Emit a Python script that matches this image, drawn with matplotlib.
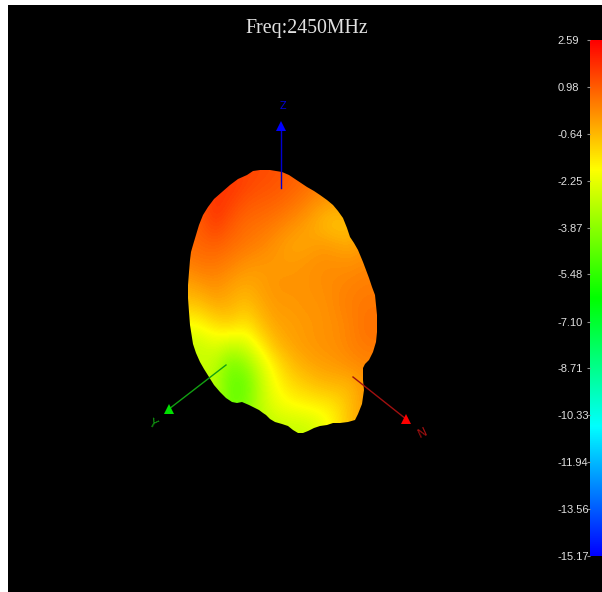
import matplotlib
matplotlib.use('Agg')
import matplotlib.pyplot as plt
from matplotlib.colors import LinearSegmentedColormap
from matplotlib.patches import Polygon, Rectangle
import numpy as np

title = 'Freq:2450MHz'
bar_labels = ['2.59', '0.98', '-0.64', '-2.25', '-3.87', '-5.48', '-7.10', '-8.71',
              '-10.33', '-11.94', '-13.56', '-15.17']
bar_values = [2.59, 0.98, -0.64, -2.25, -3.87, -5.48, -7.10, -8.71, -10.33, -11.94, -13.56, -15.17]

# outline of the radiation pattern as seen on screen
outline_x = [253, 260, 270, 282, 289, 295, 301, 307, 314, 320, 327, 333, 338, 343, 347, 350, 354,
             358, 363, 366, 369, 372, 375, 376, 377, 377, 377, 376, 373, 369, 365, 363, 363, 364,
             362, 358, 355, 348, 340, 333, 327, 320, 314, 308, 303, 298, 293, 288, 282, 275,
             270, 266, 263, 259, 255, 249, 242, 237, 232, 226, 220, 214, 209, 204, 200, 196,
             193, 190, 189, 188, 188, 189, 190, 191, 193, 196, 199, 203, 208, 214, 222, 230,
             238, 247]
outline_y = [171, 170, 170, 172, 175, 179, 183, 187, 191, 195, 200, 205, 211, 218, 228, 237, 243,
             250, 262, 270, 278, 287, 295, 305, 315, 324, 332, 342, 352, 360, 364, 368, 380, 390,
             404, 414, 420, 422, 423, 423, 425, 426, 428, 431, 433, 433, 430, 426, 424, 422,
             419, 415, 413, 410, 408, 405, 402, 403, 402, 398, 392, 385, 377, 369, 362, 353,
             344, 325, 312, 298, 285, 272, 260, 252, 245, 235, 225, 215, 207, 199, 192, 185,
             179, 175]

grid_x = [185, 200, 215, 230, 245, 260, 275, 290, 305, 320, 335, 350, 365, 380]
grid_y = [165, 185, 205, 225, 245, 265, 285, 305, 325, 345, 365, 385, 405, 425, 445]
gain_db = [
    [1.1, 1.2, 1.3, 1.4, 1.4, 1.3, 1.2, 1.0, 0.8, 0.5, 0.3, 0.2, 0.1, 0.1],
    [1.1, 1.2, 1.5, 1.7, 1.4, 1.2, 1.1, 0.9, 0.7, 0.4, 0.2, 0.1, 0.1, 0.1],
    [1.0, 1.1, 1.8, 1.4, 1.0, 0.9, 0.8, 0.6, 0.3, -0.1, -0.3, -0.1, 0.1, 0.1],
    [0.8, 1.0, 1.5, 1.0, 0.7, 0.6, 0.4, 0.1, -0.2, -0.6, -0.9, -0.8, -0.2, 0.1],
    [0.7, 0.8, 0.9, 0.7, 0.5, 0.3, 0.0, -0.3, -0.3, -0.1, -0.2, -0.4, 0.0, 0.1],
    [0.3, 0.5, 0.5, 0.3, 0.0, -0.1, -0.1, -0.1, 0.0, 0.1, 0.1, 0.1, 0.2, 0.2],
    [-0.3, -0.1, 0.1, -0.2, -0.4, -0.2, 0.0, 0.0, 0.0, 0.1, 0.2, 0.3, 0.4, 0.4],
    [-0.9, -0.8, -0.4, -0.5, -0.8, -0.4, -0.1, -0.1, 0.0, 0.0, 0.2, 0.4, 0.5, 0.5],
    [-2.0, -1.8, -1.3, -1.1, -1.5, -0.8, -0.3, -0.2, -0.1, 0.0, 0.1, 0.3, 0.6, 0.6],
    [-2.8, -2.8, -2.4, -2.8, -2.6, -1.6, -0.7, -0.3, -0.1, 0.0, 0.1, 0.3, 0.5, 0.5],
    [-2.8, -2.8, -3.0, -4.3, -3.8, -2.6, -1.5, -0.8, -0.4, -0.2, -0.1, 0.1, 0.2, 0.2],
    [-2.8, -2.8, -3.2, -4.5, -4.6, -3.0, -1.9, -1.3, -1.0, -0.7, -0.6, -0.6, 0.0, 0.1],
    [-2.8, -2.8, -3.2, -4.5, -4.2, -3.0, -2.2, -1.9, -1.7, -1.6, -1.4, -0.7, -0.1, 0.1],
    [-2.8, -2.8, -3.2, -4.2, -3.8, -3.2, -2.9, -2.8, -2.8, -2.4, -1.6, -0.7, -0.1, 0.1],
    [-2.8, -2.8, -3.2, -4.2, -3.8, -3.2, -2.9, -2.8, -2.8, -2.4, -1.6, -0.7, -0.1, 0.1],
]

cmap = LinearSegmentedColormap.from_list(
    'gain', ['#0000ff', '#00ffff', '#00ff00', '#ffff00', '#ff0000'])

fig = plt.figure(figsize=(6.02, 5.92), dpi=100, facecolor='white')
ax = fig.add_axes([0, 0, 1, 1])
ax.set_xlim(0, 602)
ax.set_ylim(592, 0)
ax.axis('off')
ax.add_patch(Rectangle((8, 5), 594, 587, facecolor='black', edgecolor='none', zorder=0))

ax.text(307, 29, title, color='#e0e0e0', ha='center', va='center', fontsize=14.3,
        family='Liberation Serif')

dx = (grid_x[1] - grid_x[0]) / 2
dy = (grid_y[1] - grid_y[0]) / 2
im = ax.imshow(gain_db, cmap=cmap, vmin=bar_values[-1], vmax=bar_values[0], aspect='auto',
               interpolation='bicubic', zorder=1,
               extent=(grid_x[0] - dx, grid_x[-1] + dx, grid_y[-1] + dy, grid_y[0] - dy))
blob = Polygon(np.column_stack([outline_x, outline_y]), closed=True, facecolor='none',
               edgecolor='none', transform=ax.transData)
ax.add_patch(blob)
im.set_clip_path(blob)
ax.set_xlim(0, 602)
ax.set_ylim(592, 0)

# the three axis arrows and their letters
arrows = [((281, 188), (281, 126), '#0000d0', '#0000ff', 'Z', (283, 106), 0, 7),
          ((226, 365), (169, 409), '#12a012', '#00e000', 'Y', (153, 424), -30, 9),
          ((353, 377), (406, 419), '#a01010', '#ff0000', 'N', (423, 433), 25, 9)]
for start, end, color, head, letter, pos, rot, size in arrows:
    ax.plot([start[0], end[0]], [start[1], end[1]], color=color, lw=1, zorder=3)
    ax.plot([end[0]], [end[1]], marker='^', ms=7.5, color=head, mew=0, zorder=4)
    ax.text(pos[0], pos[1], letter, color=color, fontsize=size, rotation=rot,
            ha='center', va='center', zorder=3)

cax = fig.add_axes([590 / 602, 1 - 556 / 592, 12 / 602, 516 / 592])
gradient = np.linspace(bar_values[0], bar_values[-1], 256).reshape(-1, 1)
cax.imshow(gradient, cmap=cmap, vmin=bar_values[-1], vmax=bar_values[0], aspect='auto',
           extent=(0, 1, bar_values[-1], bar_values[0]))
cax.set_xticks([])
cax.set_yticks(bar_values)
cax.set_yticklabels(bar_labels, ha='left', family='Liberation Sans')
cax.tick_params(axis='y', length=2, width=0.8, color='#909090', labelcolor='#e0e0e0',
                labelsize=8, pad=21.5)
for s in cax.spines.values():
    s.set_visible(False)

fig.savefig('out.png', dpi=100, facecolor='white')
